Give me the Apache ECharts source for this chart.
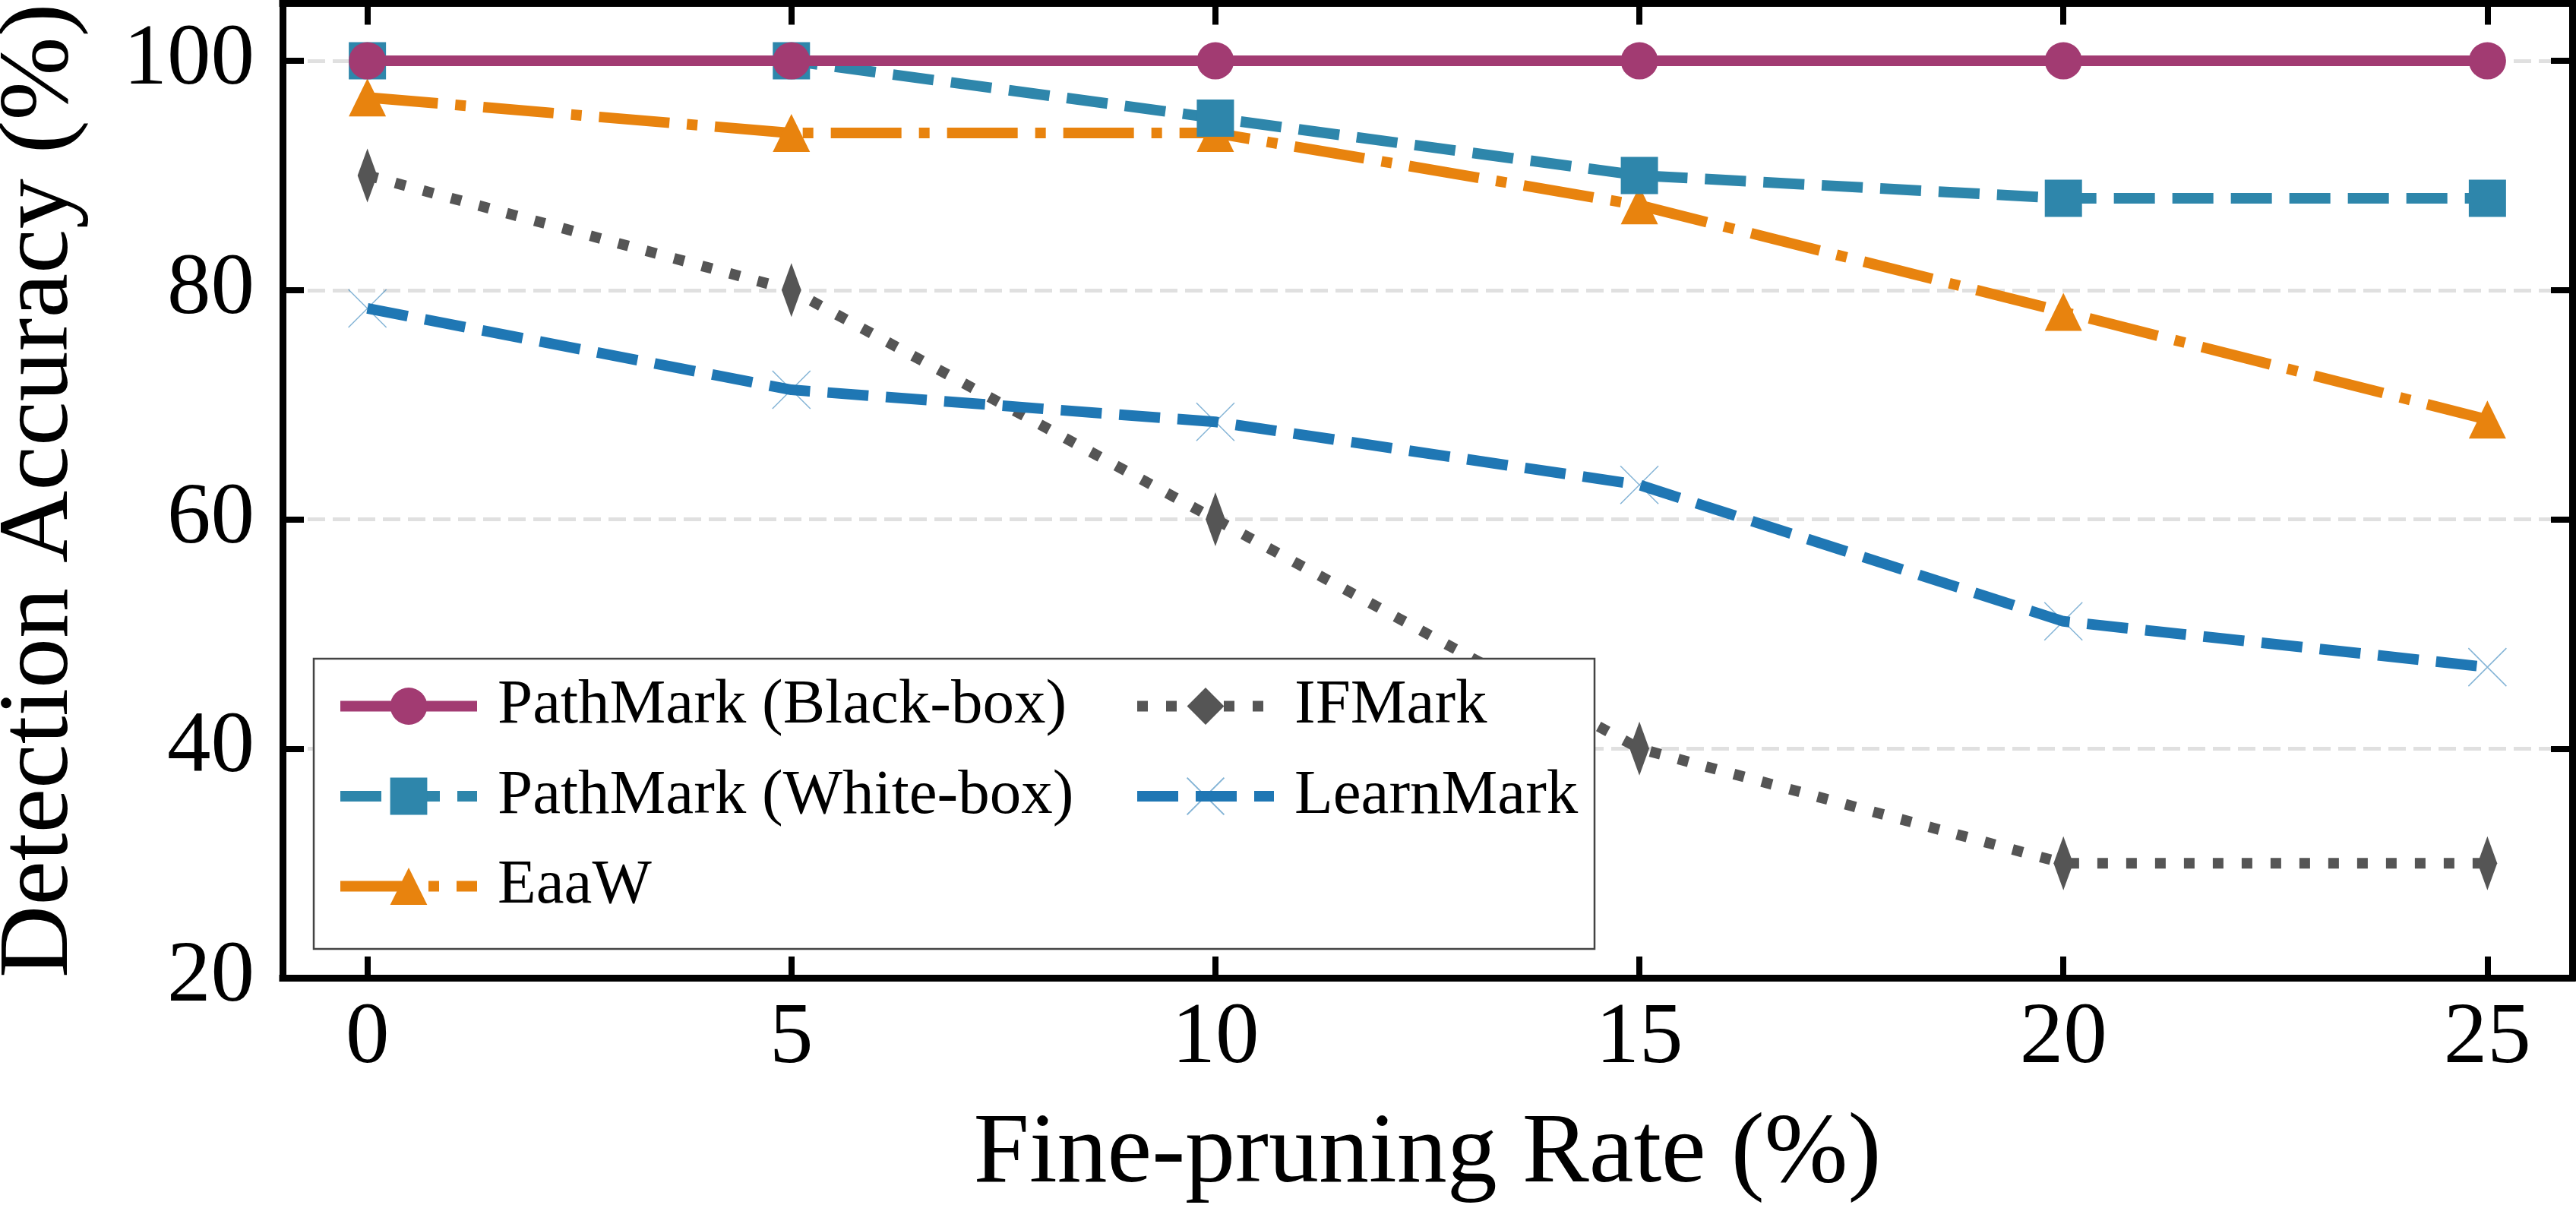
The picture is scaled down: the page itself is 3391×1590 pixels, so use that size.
<!DOCTYPE html>
<html><head><meta charset="utf-8">
<script src="https://cdn.jsdelivr.net/npm/echarts@6/dist/echarts.min.js"></script>
<style>html,body{margin:0;padding:0;background:#fff}#c{width:3391px;height:1590px}</style>
</head><body><div id="c"></div>
<script>
const rates = [0, 5, 10, 15, 20, 25];
const xTicks = [0, 5, 10, 15, 20, 25];
const yTicks = [20, 40, 60, 80, 100];
const seriesNames = ['PathMark (Black-box)', 'PathMark (White-box)', 'EaaW', 'IFMark', 'LearnMark'];
const blackBox = [100, 100, 100, 100, 100, 100];
const whiteBox = [100, 100, 95, 90, 88, 88];
const eaaw = [96.8, 93.7, 93.7, 87.4, 78.1, 68.7];
const ifmark = [90, 80, 60, 40, 30, 30];
const learnMark = [78.4, 71.3, 68.5, 63.0, 51.1, 47.1];

const FONT = 'Liberation Serif';
const pairs = vals => rates.map((r, i) => [r, vals[i]]);

function lineSeries(name, vals, color, dash, symbol, size, z, extraItem) {
  return {
    name, type: 'line', data: pairs(vals), z,
    symbol, symbolSize: size, symbolKeepAspect: true, showSymbol: true,
    lineStyle: { color, width: 14, type: dash },
    itemStyle: Object.assign({ color }, extraItem || {}),
    emphasis: { disabled: true },
    animation: false
  };
}

const series = [
  lineSeries(seriesNames[0], blackBox, '#A23B72', 'solid', 'circle', 49, 6),
  lineSeries(seriesNames[1], whiteBox, '#2E86AB', [54, 23], 'rect', 49, 5),
  lineSeries(seriesNames[2], eaaw, '#E8830E', [93, 23, 14, 23], 'triangle', [49, 50], 4),
  lineSeries(seriesNames[3], ifmark, '#555555', [14, 24], 'path://M3,0L6,5L3,10L0,5Z', [43, 71], 2),
  lineSeries(seriesNames[4], learnMark, '#1F77B4', [54, 23], 'path://M0,0L10,10M10,0L0,10', 50, 3,
    { color: 'rgba(0,0,0,0)', borderColor: 'rgba(31,119,180,0.55)', borderWidth: 1.5 })
];

const legendCommon = {
  orient: 'vertical', padding: 0, itemWidth: 180, itemHeight: 61, itemGap: 35.5,
  selectedMode: false, z: 20,
  textStyle: { fontFamily: FONT, fontSize: 83, color: '#000', lineHeight: 83, padding: [0, 0, 0, 22] },
  lineStyle: { width: 14 }
};

const axisLineStyle = { color: '#000', width: 9, cap: 'square' };
const tickStyle = { show: true, inside: true, length: 28, lineStyle: { color: '#000', width: 8 } };

const option = {
  backgroundColor: '#fff',
  animation: false,
  grid: { left: 372, right: 5, top: 4.6, bottom: 303, containLabel: false, outerBoundsMode: 'none' },
  xAxis: [
    {
      type: 'value', min: -1, max: 26, position: 'bottom',
      name: 'Fine-pruning Rate (%)', nameLocation: 'middle', nameGap: 167,
      nameTextStyle: { fontFamily: FONT, fontSize: 132, color: '#000' },
      axisLine: { show: true, onZero: false, lineStyle: axisLineStyle },
      axisTick: Object.assign({ customValues: xTicks }, tickStyle),
      axisLabel: { customValues: xTicks, fontFamily: FONT, fontSize: 115, color: '#000', margin: 23 },
      splitLine: { show: false }
    },
    {
      type: 'value', min: -1, max: 26, position: 'top',
      axisLine: { show: true, onZero: false, lineStyle: axisLineStyle },
      axisTick: Object.assign({ customValues: xTicks }, tickStyle),
      axisLabel: { show: false },
      splitLine: { show: false }
    }
  ],
  yAxis: [
    {
      type: 'value', min: 20, max: 105, interval: 20, position: 'left',
      name: 'Detection Accuracy (%)', nameLocation: 'middle', nameGap: 253,
      nameTextStyle: { fontFamily: FONT, fontSize: 132, color: '#000' },
      axisLine: { show: true, onZero: false, lineStyle: axisLineStyle },
      axisTick: Object.assign({ customValues: yTicks }, tickStyle),
      axisLabel: { customValues: yTicks, fontFamily: FONT, fontSize: 115, color: '#000', margin: 37 },
      splitLine: { show: true, lineStyle: { color: '#e0e0e0', width: 5, type: [23, 10] } }
    },
    {
      type: 'value', min: 20, max: 105, interval: 20, position: 'right',
      axisLine: { show: true, onZero: false, lineStyle: axisLineStyle },
      axisTick: Object.assign({ customValues: yTicks }, tickStyle),
      axisLabel: { show: false },
      splitLine: { show: false }
    }
  ],
  legend: [
    Object.assign({}, legendCommon, { data: seriesNames.slice(0, 3), left: 441, top: 888 }),
    Object.assign({}, legendCommon, { data: seriesNames.slice(3), left: 1490, top: 888 })
  ],
  graphic: [{
    type: 'rect', z: 15,
    shape: { x: 413, y: 867, width: 1686, height: 382 },
    style: { fill: '#fff', stroke: '#444', lineWidth: 2.5 }
  }],
  series
};

const chart = echarts.init(document.getElementById('c'), null, { renderer: 'canvas' });
chart.setOption(option);
</script>
</body></html>
